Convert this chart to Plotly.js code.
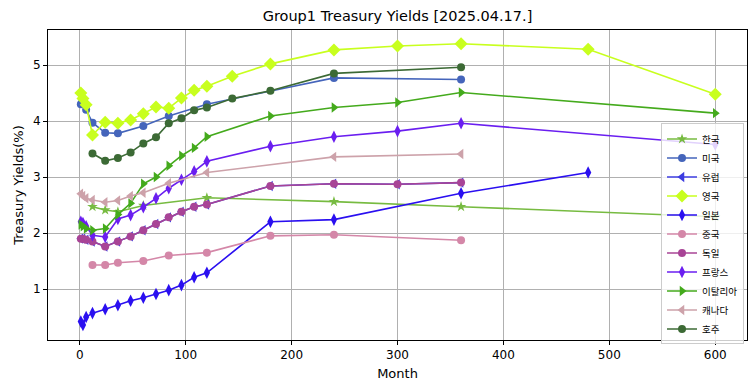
<!DOCTYPE html>
<html>
<head>
<meta charset="utf-8">
<script src="https://cdn.plot.ly/plotly-3.0.1.min.js"></script>
<style>
html,body{margin:0;padding:0;background:#fff;}
#chart{width:755px;height:391px;}
</style>
</head>
<body>
<div id="chart"></div>
<script>
// Data (months to maturity, yields in %)
const krMonths = [12, 24, 36, 60, 120, 240, 360, 600];
const krYields = [2.47, 2.41, 2.38, 2.49, 2.63, 2.56, 2.47, 2.29];

const usMonths = [1, 2, 3, 4, 6, 12, 24, 36, 60, 84, 120, 240, 360];
const usYields = [4.30, 4.32, 4.33, 4.31, 4.20, 3.97, 3.79, 3.78, 3.91, 4.09, 4.30, 4.77, 4.74];

const euMonths = [1, 3, 6, 12, 24, 36, 48, 60, 72, 84, 96, 108, 120, 180, 240, 300, 360];
const euYields = [1.90, 1.90, 1.88, 1.85, 1.76, 1.85, 1.94, 2.05, 2.16, 2.28, 2.38, 2.47, 2.51, 2.84, 2.88, 2.87, 2.90];

const ukMonths = [1, 3, 6, 12, 24, 36, 48, 60, 72, 84, 96, 108, 120, 144, 180, 240, 300, 360, 480, 600];
const ukYields = [4.50, 4.40, 4.29, 3.75, 3.98, 3.96, 4.02, 4.13, 4.25, 4.23, 4.41, 4.55, 4.62, 4.80, 5.02, 5.27, 5.34, 5.38, 5.28, 4.48];

const jpMonths = [1, 3, 6, 12, 24, 36, 48, 60, 72, 84, 96, 108, 120, 180, 240, 360, 480];
const jpYields = [0.42, 0.36, 0.50, 0.57, 0.64, 0.71, 0.79, 0.845, 0.91, 0.98, 1.07, 1.21, 1.29, 2.20, 2.24, 2.71, 3.08];

const cnMonths = [12, 24, 36, 60, 84, 120, 180, 240, 360];
const cnYields = [1.43, 1.43, 1.47, 1.50, 1.60, 1.65, 1.95, 1.97, 1.87];

const deMonths = [1, 3, 6, 12, 24, 36, 48, 60, 72, 84, 96, 108, 120, 180, 240, 300, 360];
const deYields = [1.90, 1.90, 1.88, 1.85, 1.76, 1.85, 1.94, 2.05, 2.16, 2.28, 2.38, 2.47, 2.51, 2.84, 2.88, 2.87, 2.90];

const frMonths = [1, 3, 6, 12, 24, 36, 48, 60, 72, 84, 96, 108, 120, 180, 240, 300, 360, 600];
const frYields = [2.20, 2.18, 2.12, 1.96, 1.93, 2.25, 2.32, 2.46, 2.62, 2.80, 2.95, 3.10, 3.28, 3.55, 3.72, 3.82, 3.96, 3.58];

const itMonths = [1, 3, 6, 12, 24, 36, 48, 60, 72, 84, 96, 108, 120, 180, 240, 300, 360, 600];
const itYields = [2.15, 2.12, 2.08, 2.05, 2.08, 2.33, 2.53, 2.88, 3.00, 3.20, 3.38, 3.52, 3.72, 4.09, 4.24, 4.33, 4.51, 4.14];

const caMonths = [1, 3, 6, 12, 24, 36, 48, 60, 84, 120, 240, 360];
const caYields = [2.70, 2.66, 2.62, 2.59, 2.55, 2.58, 2.66, 2.72, 2.89, 3.08, 3.36, 3.41];

const auMonths = [12, 24, 36, 48, 60, 72, 84, 96, 108, 120, 144, 180, 240, 360];
const auYields = [3.42, 3.29, 3.34, 3.44, 3.60, 3.71, 3.96, 4.05, 4.19, 4.24, 4.40, 4.54, 4.85, 4.96];

const xTicks = [0, 100, 200, 300, 400, 500, 600];
const yTicks = [1, 2, 3, 4, 5];

function tr(name, x, y, color, symbol, size) {
  return {
    type: 'scatter', mode: 'lines+markers', name: name, x: x, y: y,
    line: {color: color, width: 1.6},
    marker: {color: color, symbol: symbol, size: size, line: {width: 0}}
  };
}

const traces = [
  tr('한국', krMonths, krYields, '#77bb41', 'star', 8),
  tr('미국', usMonths, usYields, '#4565bb', 'circle', 8),
  tr('유럽', euMonths, euYields, '#3c3ce0', 'triangle-left', 9),
  tr('영국', ukMonths, ukYields, '#c8ff1e', 'diamond', 10),
  tr('일본', jpMonths, jpYields, '#2a0ff0', 'diamond-tall', 9),
  tr('중국', cnMonths, cnYields, '#d487a8', 'circle', 8),
  tr('독일', deMonths, deYields, '#a84496', 'circle', 8),
  tr('프랑스', frMonths, frYields, '#6a1ef0', 'diamond-tall', 9),
  tr('이탈리아', itMonths, itYields, '#44aa1c', 'triangle-right', 9),
  tr('캐나다', caMonths, caYields, '#cda2aa', 'triangle-left', 9),
  tr('호주', auMonths, auYields, '#3c6a35', 'circle', 8)
];

const layout = {
  width: 755, height: 391,
  margin: {l: 48, r: 8, t: 30, b: 51, pad: 0},
  paper_bgcolor: '#ffffff', plot_bgcolor: '#ffffff',
  font: {family: 'DejaVu Sans, sans-serif', size: 12, color: '#000'},
  title: {text: 'Group1 Treasury Yields [2025.04.17.]', xref: 'paper', x: 0.5, xanchor: 'center',
          yref: 'container', y: 0.958, yanchor: 'middle',
          font: {family: 'DejaVu Sans, sans-serif', size: 14.5, color: '#000'}},
  xaxis: {
    range: [-30, 630], tickvals: xTicks, ticktext: xTicks.map(String),
    showgrid: true, gridcolor: '#b0b0b0', gridwidth: 1,
    zeroline: false, showline: true, linecolor: '#000', linewidth: 1, mirror: true,
    ticks: 'outside', ticklen: 4, tickcolor: '#000',
    tickfont: {family: 'DejaVu Sans, sans-serif', size: 12},
    title: {text: 'Month', font: {family: 'DejaVu Sans, sans-serif', size: 13}, standoff: 7}
  },
  yaxis: {
    range: [0.09, 5.625], tickvals: yTicks, ticktext: yTicks.map(String),
    showgrid: true, gridcolor: '#b0b0b0', gridwidth: 1,
    zeroline: false, showline: true, linecolor: '#000', linewidth: 1, mirror: true,
    ticks: 'outside', ticklen: 4, tickcolor: '#000',
    tickfont: {family: 'DejaVu Sans, sans-serif', size: 12},
    title: {text: 'Treasury Yields(%)', font: {family: 'DejaVu Sans, sans-serif', size: 13}, standoff: 6}
  },
  legend: {
    x: 0.877, y: 0.342, xanchor: 'left', yanchor: 'middle',
    bgcolor: 'rgba(255,255,255,0.8)', bordercolor: '#cccccc', borderwidth: 1,
    font: {family: 'Noto Sans CJK KR, sans-serif', size: 9.5, color: '#000'},
    tracegroupgap: 0, itemwidth: 30
  },
  showlegend: true
};

Plotly.newPlot('chart', traces, layout, {displayModeBar: false, staticPlot: true});
</script>
</body>
</html>
